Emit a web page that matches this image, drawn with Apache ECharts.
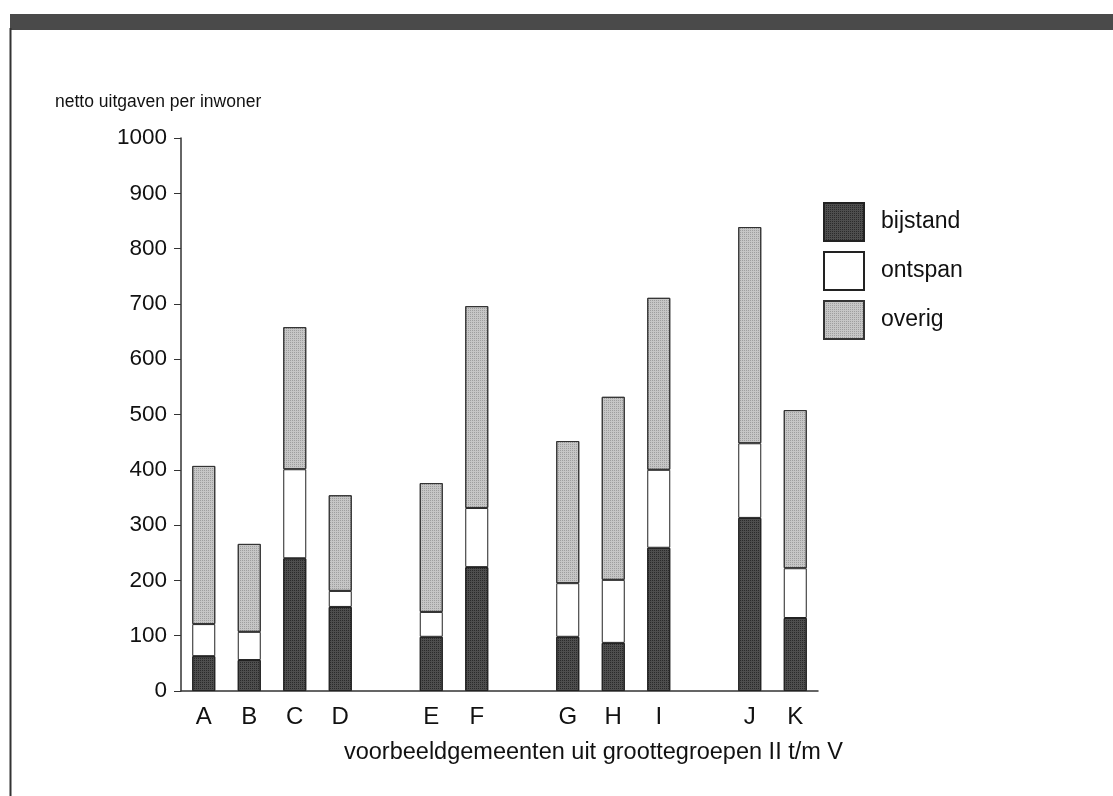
<!DOCTYPE html>
<html>
<head>
<meta charset="utf-8">
<script src="https://cdn.jsdelivr.net/npm/echarts@6/dist/echarts.min.js"></script>
<style>html,body{margin:0;padding:0;background:#fff}#c{width:1113px;height:796px}</style>
</head>
<body>
<div id="c"></div>
<script>
// categories (empty strings are the gaps between groups)
const categories = ['A','B','C','D','','E','F','','G','H','I','','J','K'];
const bijstand = [63, 56, 240, 152, null, 98, 224, null, 98, 87, 259, null, 313, 132];
const ontspan  = [58, 51, 161, 29, null, 45, 107, null, 97, 114, 141, null, 135, 90];
const overig   = [286, 159, 257, 173, null, 233, 365, null, 257, 331, 311, null, 391, 286];
const yTicks = [0, 100, 200, 300, 400, 500, 600, 700, 800, 900, 1000];

const font = 'Liberation Sans, Arial, Helvetica, sans-serif';
const chart = echarts.init(document.getElementById('c'), null, {renderer: 'canvas'});
const barBase = {type: 'bar', stack: 'tot', barWidth: 23};
chart.setOption({
  animation: false,
  backgroundColor: '#fff',
  textStyle: {fontFamily: font},
  graphic: [
    {type: 'rect', shape: {x: 10, y: 14, width: 1103, height: 16}, style: {fill: '#4a4a4a'}},
    {type: 'line', shape: {x1: 10.5, y1: 28, x2: 10.5, y2: 796}, style: {stroke: '#333', lineWidth: 2}},
    {type: 'text', left: 55, top: 93, style: {text: 'netto uitgaven per inwoner', fontSize: 17.5, fontFamily: font, fill: '#111'}}
  ],
  grid: {left: 181, right: 295, top: 138, bottom: 105, containLabel: false},
  legend: {
    orient: 'vertical', left: 823, top: 202, padding: 0, itemWidth: 40, itemHeight: 38, itemGap: 9,
    icon: 'rect',
    textStyle: {fontSize: 23, fontFamily: font, color: '#111', padding: [0, 0, 0, 12]},
    data: ['bijstand', 'ontspan', 'overig']
  },
  xAxis: {
    type: 'category', data: categories,
    name: 'voorbeeldgemeenten uit groottegroepen II t/m V',
    nameLocation: 'middle', nameGap: 50,
    nameTextStyle: {fontSize: 23.5, color: '#111', fontFamily: font, padding: [0, 0, 0, 188]},
    axisLine: {lineStyle: {color: '#333', width: 1.5}},
    axisTick: {alignWithLabel: true, length: 4, lineStyle: {color: '#555'}},
    axisLabel: {fontSize: 24, color: '#111', margin: 14, fontFamily: font, interval: 0}
  },
  yAxis: {
    type: 'value', min: 0, max: 1000, interval: 100,
    axisLine: {show: true, lineStyle: {color: '#333', width: 1.5}},
    axisTick: {show: true, length: 7, lineStyle: {color: '#333'}},
    splitLine: {show: false},
    axisLabel: {fontSize: 22.5, color: '#111', margin: 14, fontFamily: font,
      formatter: v => yTicks.includes(v) ? String(v) : ''}
  },
  series: [
    Object.assign({}, barBase, {name: 'bijstand', data: bijstand,
      itemStyle: {color: '#4e4e4e', borderColor: '#222', borderWidth: 1,
        decal: {symbol: 'rect', symbolSize: 1, dashArrayX: [1, 1], dashArrayY: [1, 1], color: 'rgba(0,0,0,0.45)'}}}),
    Object.assign({}, barBase, {name: 'ontspan', data: ontspan,
      itemStyle: {color: '#ffffff', borderColor: '#222', borderWidth: 1}}),
    Object.assign({}, barBase, {name: 'overig', data: overig,
      itemStyle: {color: '#c6c6c6', borderColor: '#333', borderWidth: 1,
        decal: {symbol: 'rect', symbolSize: 1, dashArrayX: [1, 1], dashArrayY: [1, 1], color: 'rgba(0,0,0,0.2)'}}})
  ]
});
</script>
</body>
</html>
